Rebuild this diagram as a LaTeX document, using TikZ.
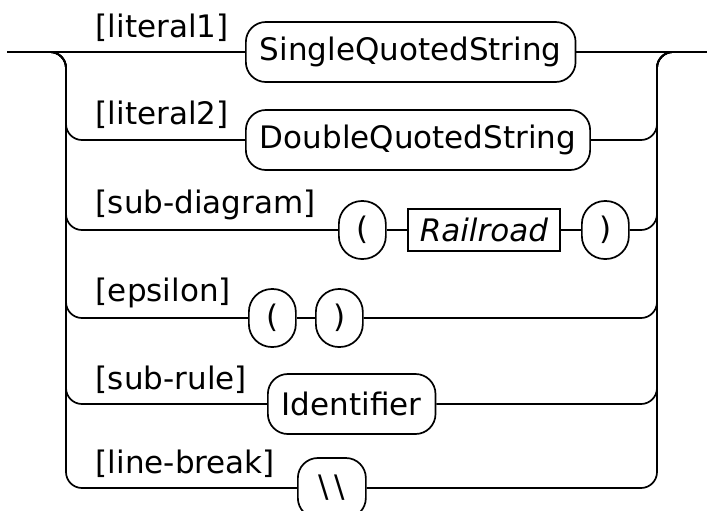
\documentclass[tikz,border=0pt]{standalone}
\usepackage{fontspec}
\setmainfont{DejaVu Sans}[ItalicFont={DejaVu Sans Oblique}]
\usepackage{tikz}
\usetikzlibrary{positioning}

\begin{document}
\begin{tikzpicture}[
    x=0.5pt, y=-0.5pt,
    line width=0.85pt,
    font=\fontsize{15.5pt}{18pt}\selectfont,
    terminal/.style={draw, rounded corners=10pt, minimum height=30pt, inner xsep=7pt, inner ysep=0pt, anchor=west},
    paren/.style={terminal, rounded corners=11.5pt, minimum width=23.5pt, minimum height=29pt, inner xsep=0pt},
    nonterm/.style={draw, minimum height=21pt, minimum width=76pt, inner sep=0pt, anchor=west},
    branchlabel/.style={anchor=base west, inner sep=0pt},
    rail/.style={rounded corners=8pt}
  ]

  % Page frame
  \clip (0,0) rectangle (707,510);

  % Rail end points
  \coordinate (start) at (7,52);
  \coordinate (finish) at (707,52);
  \coordinate (lrail) at (66,52);
  \coordinate (rrail) at (657,52);

  % Branch labels
  \node[branchlabel] (lab1) at (95,37) {[literal1]};
  \node[branchlabel] (lab2) at (95,124) {[literal2]};
  \node[branchlabel] (lab3) at (95,213) {[sub-diagram]};
  \node[branchlabel] (lab4) at (95,301) {[epsilon]};
  \node[branchlabel] (lab5) at (95,389) {[sub-rule]};
  \node[branchlabel] (lab6) at (95,473) {[line-break]};

  % Terminals
  \node[terminal] (single) at (245,52) {SingleQuotedString};
  \node[terminal] (double) at (245,140) {DoubleQuotedString};
  \node[paren] (lparen3) at (338,230) {(};
  \node[nonterm] (railroad) at (407,230) {\itshape Railroad};
  \node[paren] (rparen3) at (581,230) {)};
  \node[paren] (lparen4) at (248,318) {(};
  \node[paren] (rparen4) at (315,318) {)};
  \node[terminal] (ident) at (267,404) {Identifier};
  \node[terminal, minimum width=34pt, inner xsep=0pt] (linebreak) at (297,488) {\textbackslash\hspace{3pt}\textbackslash};

  % Main line
  \draw (start) -- (single);
  \draw (single) -- (finish);

  % Left rail
  \draw[rail] (start) -- (lrail) |- (double.west);
  \draw[rail] (start) -- (lrail) |- (lparen3.west);
  \draw[rail] (start) -- (lrail) |- (lparen4.west);
  \draw[rail] (start) -- (lrail) |- (ident.west);
  \draw[rail] (start) -- (lrail) |- (linebreak.west);

  % Inner connections
  \draw (lparen3) -- (railroad);
  \draw (railroad) -- (rparen3);
  \draw (lparen4) -- (rparen4);

  % Right rail
  \draw[rail] (double.east) -| (rrail) -- (finish);
  \draw[rail] (rparen3.east) -| (rrail) -- (finish);
  \draw[rail] (rparen4.east) -| (rrail) -- (finish);
  \draw[rail] (ident.east) -| (rrail) -- (finish);
  \draw[rail] (linebreak.east) -| (rrail) -- (finish);

\end{tikzpicture}
\end{document}
